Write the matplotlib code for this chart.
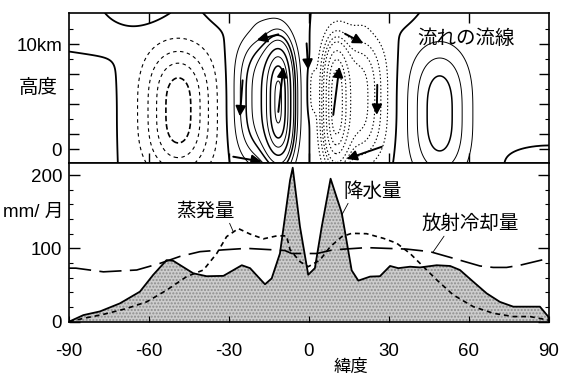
import numpy as np
import matplotlib
matplotlib.use('Agg')
import matplotlib.pyplot as plt
from matplotlib.ticker import MultipleLocator

plt.rcParams['font.family'] = ['Liberation Sans', 'Noto Sans CJK JP']
plt.rcParams['lines.scale_dashes'] = False

# ---- lower panel: zonal mean budget (mm/month) ----
precip_lat = [-90, -84.6, -78.4, -70.9, -63.4, -58.4, -53.4, -50.9, -43.4, -38.4, -32.1,
              -25.2, -22.1, -16.5, -14, -10.9, -7.1, -6.1, -3.4, -0.3, 2.2, 4.8, 8.1,
              12.3, 16, 18.5, 22.9, 26.6, 30.4, 33.5, 37.9, 41.6, 47.9, 52.9, 56.6,
              61.6, 66.6, 71.6, 76.6, 86.6, 89.7, 90]
precip_val = [0, 9, 14, 25, 41, 64, 84, 83, 66, 62, 62.5,
              77, 73, 51, 59, 93, 193, 210, 130, 64, 73, 130, 195,
              148, 70, 56, 61.5, 62, 76, 73, 75, 74, 77, 76, 70.5,
              54.5, 38.7, 27, 20.5, 20.5, 7, 0]

evap_lat = [-90, -84.6, -77.1, -68.4, -60.9, -53.4, -45.9, -39.6, -34.6, -30.9, -26.5,
            -22.1, -17.1, -12.1, -8.4, -7.1, -3.4, -0.3, 4.1, 7.9, 12.3, 16, 21.6,
            27.9, 32.9, 37.9, 42.9, 47.9, 54.1, 61.6, 69.1, 76.6, 82.9, 90]
evap_val = [0, 4.5, 10, 18, 27, 43, 61.5, 70.5, 93, 116, 127,
            119.5, 113, 117, 117, 98, 82, 75, 84, 102, 116, 120.5, 120,
            113.7, 107, 93, 75, 57, 36.5, 20.5, 11.5, 7, 7, 2]

cool_lat = [-90, -87.4, -77.1, -64.6, -55.9, -48.4, -40.9, -32.1, -23.4, -13.4, -9,
            -6.5, 2.9, 9.1, 21.6, 36.6, 45.4, 54.1, 64.1, 69.1, 74.1, 79.1, 90]
cool_val = [73, 73, 68, 70.5, 79.5, 89, 95.5, 98, 100, 98, 97,
            93, 93, 98, 101, 99, 95.5, 86.5, 76, 74, 74, 77, 86.5]

# ---- upper panel: circulation cells (lat, height, lat width, height width, strength) ----
# S Ferrel, S Hadley (core, broad), N Hadley (core, broad), N Ferrel,
# upper outflow S / N, equatorial eddy, S polar, S upper band, S upper blob, N polar
cell_lat = [-49, -11, -18, 10, 19, 49, -22, 24, 1.5, -92, -85, -67, 82]
cell_hgt = [3.5, 4.0, 4.3, 4.0, 4.3, 3.3, 10.3, 10.3, 4.8, 3.0, 9.0, 10.8, -0.3]
cell_wlat = [12.5, 5, 9, 4.5, 9, 11, 12, 12, 1.5, 15, 16, 11, 5]
cell_whgt = [4.17, 3.9, 4.0, 3.9, 4.0, 4.4, 1.3, 1.3, 1.5, 4.0, 1.8, 1.5, 0.7]
cell_amp = [-4.6, 10, 4.5, -10, -4.5, 3.6, 0.55, -0.55, -1.3, 0.9, -0.5, 0.8, -0.4]

# flow arrows: (lat, height) start -> end
arrow_x0 = [-11.5, -24.9, -28.4, -11.5, -0.9, 9.1, 13.5, 25.6, 27.3]
arrow_y0 = [8.56, 5.5, 0.42, 3.4, 7.96, 3.2, 8.6, 5.2, 1.08]
arrow_x1 = [-19.6, -25.9, -17.7, -9.6, -0.3, 11.4, 20.4, 25.4, 14.1]
arrow_y1 = [8.18, 3.1, 0.09, 6.4, 6.2, 6.4, 7.96, 3.2, 0.27]

pos_levels = [1, 2, 3, 4, 6, 8, 10, 12]
pos_widths = [0.7, 0.7, 1.1, 0.7, 1.1, 0.7, 1.1, 0.7]
south_levels = [-3, -2, -1]
north_levels = [-12, -10, -8, -6, -4, -3, -2, -1]

fig = plt.figure(figsize=(5.61, 3.77), dpi=100)
ax1 = fig.add_axes([0.123, 0.5676, 0.8556, 0.3987])
ax2 = fig.add_axes([0.123, 0.1467, 0.8556, 0.4209])

lat = np.linspace(-90, 90, 721)
hgt = np.linspace(0, 10, 301)
LAT, HGT = np.meshgrid(lat, hgt)
psi = np.zeros_like(LAT)
for cx, cy, wx, wy, a in zip(cell_lat, cell_hgt, cell_wlat, cell_whgt, cell_amp):
    psi += a * np.exp(-((LAT - cx) / wx) ** 2 - np.abs((HGT - cy) / wy) ** 3)

ax1.contour(LAT, HGT, psi, levels=pos_levels, colors='k', linewidths=pos_widths)
south = lat <= -20
north = lat >= -20
ax1.contour(LAT[:, south], HGT[:, south], psi[:, south], levels=south_levels,
            colors='k', linewidths=0.8, linestyles=[(0, (2.5, 2.5))])
ax1.contour(LAT[:, south], HGT[:, south], psi[:, south], levels=[-4],
            colors='k', linewidths=1.2, linestyles=[(0, (4, 2))])
ax1.contour(LAT[:, north], HGT[:, north], psi[:, north], levels=north_levels,
            colors='k', linewidths=0.8, linestyles=[(0, (1, 1.6))])
ax1.contour(LAT, HGT, psi, levels=[0], colors='k', linewidths=1.3)

for x0, y0, x1, y1 in zip(arrow_x0, arrow_y0, arrow_x1, arrow_y1):
    ax1.annotate('', xy=(x1, y1), xytext=(x0, y0),
                 arrowprops=dict(arrowstyle='-|>', color='k', lw=1.4,
                                 mutation_scale=15, shrinkA=0, shrinkB=0))

ax1.set_xlim(-90, 90)
ax1.set_ylim(0, 10)
ax1.set_xticks([-60, -30, 0, 30, 60])
ax1.set_xticklabels([])
ax1.set_yticks([0.9, 1.9, 3.9, 5.9, 7.9])
ax1.set_yticklabels(['0', '', '', '', '10km'])
ax1.set_yticks([2.9, 4.9, 6.9, 8.9], minor=True)
ax1.tick_params(which='both', direction='in', top=True, right=True, labelsize=13.5, pad=5)
ax1.tick_params(which='major', length=7, width=1)
ax1.tick_params(which='minor', length=3, width=0.8)
ax1.text(59, 8.3, '流れの流線', fontsize=14, ha='center', va='center')
fig.text(0.068, 0.766, '高度', fontsize=14, ha='center', va='center')

ax2.fill_between(precip_lat, precip_val, 0, facecolor='#cdcdcd', edgecolor='#8c8c8c',
                 hatch='.....', linewidth=0)
ax2.plot(precip_lat, precip_val, color='k', lw=1.3)
ax2.plot(evap_lat, evap_val, color='k', lw=1.2, dashes=(3.5, 2.8))
ax2.plot(cool_lat, cool_val, color='k', lw=1.2, dashes=(16, 6))

ax2.annotate('蒸発量', xy=(-28.4, 122.7), xytext=(-39, 150), fontsize=14,
             ha='center', va='center',
             arrowprops=dict(arrowstyle='-', lw=0.6, color='k', shrinkA=0, shrinkB=0,
                             relpos=(0.9, 0.0)))
ax2.annotate('降水量', xy=(12.3, 145.5), xytext=(24, 178), fontsize=14,
             ha='center', va='center',
             arrowprops=dict(arrowstyle='-', lw=0.6, color='k', shrinkA=0, shrinkB=0,
                             relpos=(0.1, 0.0)))
ax2.annotate('放射冷却量', xy=(46.6, 95.4), xytext=(60.5, 133), fontsize=14,
             ha='center', va='center',
             arrowprops=dict(arrowstyle='-', lw=0.6, color='k', shrinkA=0, shrinkB=0,
                             relpos=(0.25, 0.0)))

ax2.set_xlim(-90, 90)
ax2.set_ylim(0, 216.4)
ax2.set_xticks([-90, -60, -30, 0, 30, 60, 90])
ax2.set_xticklabels(['-90', '-60', '-30', '0', '30', '60', '90'])
ax2.set_yticks([0, 100, 200])
ax2.yaxis.set_minor_locator(MultipleLocator(20))
ax2.tick_params(which='both', direction='in', right=True, labelsize=13.5)
ax2.tick_params(axis='y', which='major', length=8, width=1, pad=5)
ax2.tick_params(axis='y', which='minor', length=3, width=0.8)
ax2.tick_params(axis='x', which='major', length=4, pad=15)
fig.text(0.626, 0.027, '緯度', fontsize=12.5, ha='center', va='center')
fig.text(0.113, 0.437, 'mm/ 月', fontsize=13.5, ha='right', va='center')

for ax in (ax1, ax2):
    for s in ax.spines.values():
        s.set_linewidth(1.2)

fig.savefig('out.png', dpi=100)
